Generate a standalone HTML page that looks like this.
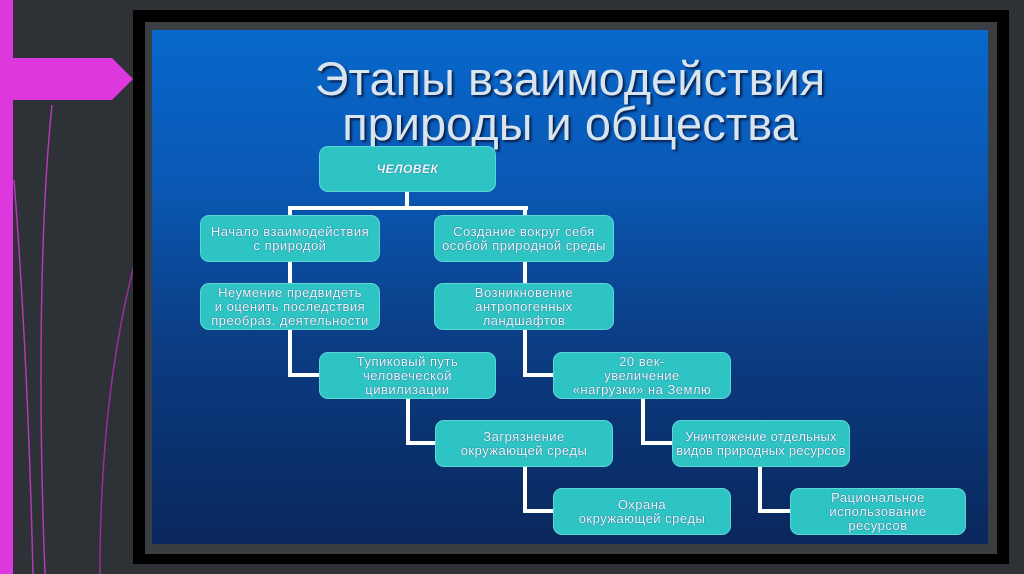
<!DOCTYPE html>
<html><head><meta charset="utf-8"><style>
*{margin:0;padding:0;box-sizing:border-box}
body{width:1024px;height:574px;background:#2e3136;position:relative;overflow:hidden;font-family:"Liberation Sans",sans-serif}
.abs{position:absolute}
.box{position:absolute;background:#2fc4c4;border-radius:9px;color:#f2f8f8;font-size:13px;line-height:14px;text-align:center;display:flex;align-items:center;justify-content:center;letter-spacing:0.5px;text-shadow:0 0 1px #137;border:1px solid #5ad8d8;white-space:nowrap}
.ln{position:absolute;background:#fff}
.t{position:absolute;left:152px;width:836px;text-align:center;color:#d8e4ee;font-size:47px;text-shadow:2px 2px 2px #0a1f4a}
</style></head><body>
<div class="abs" style="left:0;top:0;width:13px;height:574px;background:#dd38dd"></div>
<svg class="abs" style="left:0;top:0" width="150" height="574">
<polygon points="0,58 112,58 133,79 112,100 0,100" fill="#dd38dd"/>
<path d="M52,105 C40,220 38,400 45,574" stroke="#b33ab3" stroke-width="1.5" fill="none"/>
<path d="M14,180 C25,320 30,450 33,574" stroke="#b33ab3" stroke-width="1.5" fill="none"/>
<path d="M148,220 C120,300 100,420 100,574" stroke="#9a2f9a" stroke-width="1.5" fill="none"/>
</svg>
<div class="abs" style="left:133px;top:10px;width:876px;height:554px;background:#000"></div>
<div class="abs" style="left:145px;top:22px;width:852px;height:532px;background:#3a3d42"></div>
<div class="abs" style="left:152px;top:30px;width:836px;height:514px;background:linear-gradient(#0868cc 0%,#0a58b4 30%,#0b3d84 60%,#0a275c 100%)"></div>
<div class="t" style="top:51px">Этапы взаимодействия</div>
<div class="t" style="top:96px">природы и общества</div>

<div class="ln" style="left:405px;top:190px;width:4px;height:20px"></div>
<div class="ln" style="left:288px;top:206px;width:240px;height:4px"></div>
<div class="ln" style="left:288px;top:206px;width:4px;height:170px"></div>
<div class="ln" style="left:288px;top:373px;width:32px;height:4px"></div>
<div class="ln" style="left:523px;top:206px;width:4px;height:170px"></div>
<div class="ln" style="left:523px;top:373px;width:32px;height:4px"></div>
<div class="ln" style="left:406px;top:398px;width:4px;height:46px"></div>
<div class="ln" style="left:406px;top:441px;width:32px;height:4px"></div>
<div class="ln" style="left:641px;top:398px;width:4px;height:46px"></div>
<div class="ln" style="left:641px;top:441px;width:32px;height:4px"></div>
<div class="ln" style="left:523px;top:466px;width:4px;height:46px"></div>
<div class="ln" style="left:523px;top:509px;width:32px;height:4px"></div>
<div class="ln" style="left:758px;top:466px;width:4px;height:46px"></div>
<div class="ln" style="left:758px;top:509px;width:34px;height:4px"></div>

<div class="box" style="left:319px;top:146px;width:177px;height:46px;font-style:italic;font-weight:bold;font-size:12px">ЧЕЛОВЕК</div>
<div class="box" style="left:200px;top:215px;width:180px;height:47px">Начало взаимодействия<br>с природой</div>
<div class="box" style="left:434px;top:215px;width:180px;height:47px">Создание вокруг себя<br>особой природной среды</div>
<div class="box" style="left:200px;top:283px;width:180px;height:47px">Неумение предвидеть<br>и оценить последствия<br>преобраз. деятельности</div>
<div class="box" style="left:434px;top:283px;width:180px;height:47px">Возникновение<br>антропогенных<br>ландшафтов</div>
<div class="box" style="left:319px;top:352px;width:177px;height:47px">Тупиковый путь<br>человеческой<br>цивилизации</div>
<div class="box" style="left:553px;top:352px;width:178px;height:47px">20 век-<br>увеличение<br>«нагрузки» на Землю</div>
<div class="box" style="left:435px;top:420px;width:178px;height:47px">Загрязнение<br>окружающей среды</div>
<div class="box" style="left:672px;top:420px;width:178px;height:47px;letter-spacing:0.2px">Уничтожение отдельных<br>видов природных ресурсов</div>
<div class="box" style="left:553px;top:488px;width:178px;height:47px">Охрана<br>окружающей среды</div>
<div class="box" style="left:790px;top:488px;width:176px;height:47px">Рациональное<br>использование<br>ресурсов</div>
</body></html>
